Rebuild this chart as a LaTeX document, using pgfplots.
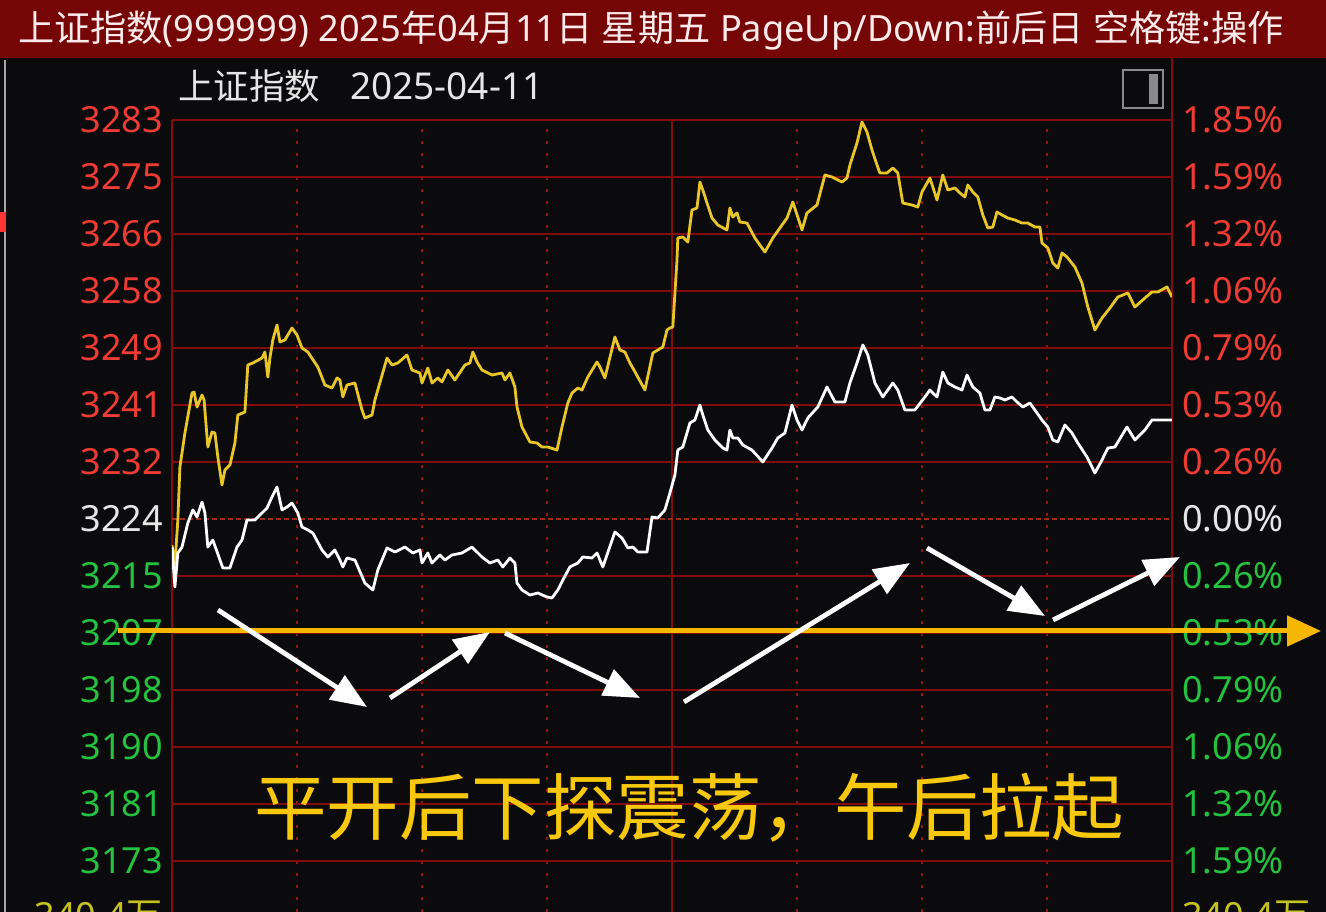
\documentclass[border=0pt]{standalone}
\usepackage{pgfplots}
\pgfplotsset{compat=1.18}
\usepackage{pgfplotstable}
\usepackage{fontspec}
\setmainfont{Noto Sans}
\newfontfamily\cjk{Noto Sans CJK SC}
\usetikzlibrary{arrows.meta}
\definecolor{bg}{HTML}{0B0B0E}
\definecolor{bar}{HTML}{760606}
\definecolor{gridred}{HTML}{820C0C}
\definecolor{dotred}{HTML}{8E1616}
\definecolor{zerored}{HTML}{A02C14}
\definecolor{lblred}{HTML}{EE3B33}
\definecolor{lblgreen}{HTML}{25C23F}
\definecolor{lblwhite}{HTML}{E6E6E6}
\definecolor{lineyellow}{HTML}{E8C62A}
\definecolor{arrowyellow}{HTML}{F5B700}
\definecolor{captionyellow}{HTML}{F8C80C}
\definecolor{volyellow}{HTML}{C4C21E}
\definecolor{icongray}{HTML}{8A8A8A}

\pgfplotstableread{
t v
0.0 3219.75
0.7 3216.76
1.4 3223.49
1.9 3231.41
3.1 3236.49
4.8 3242.47
5.3 3242.62
6.0 3240.38
7.2 3242.17
7.7 3241.43
8.6 3234.40
9.6 3236.64
10.3 3236.49
11.0 3232.91
12.0 3228.72
12.7 3230.96
13.9 3231.71
15.1 3235.00
15.8 3239.18
17.5 3239.63
18.2 3246.66
19.4 3246.96
21.6 3247.70
22.3 3248.60
23.0 3244.86
23.5 3247.70
24.2 3250.40
25.2 3252.64
25.9 3250.10
27.1 3250.40
28.8 3252.19
30.0 3251.14
31.2 3249.20
32.6 3248.60
35.0 3246.36
36.7 3243.67
38.4 3243.22
39.6 3244.72
40.3 3244.42
41.0 3241.88
42.0 3243.67
43.9 3243.97
45.6 3239.93
46.3 3238.74
48.0 3239.18
48.7 3241.43
51.6 3247.70
52.8 3246.66
54.2 3246.96
56.4 3248.15
57.6 3245.91
59.5 3245.46
60.0 3243.97
61.4 3246.21
62.4 3243.97
63.8 3244.72
64.8 3244.12
66.2 3245.91
67.9 3244.42
70.3 3246.66
71.5 3246.96
72.2 3248.60
73.2 3247.11
74.4 3245.91
76.8 3245.16
79.2 3245.46
79.9 3244.42
81.1 3245.46
82.3 3243.37
82.8 3240.38
84.0 3237.39
85.9 3235.15
87.6 3235.00
88.8 3234.40
90.2 3234.40
92.4 3233.95
93.6 3237.39
95.0 3240.98
96.0 3242.47
97.4 3243.22
98.4 3242.92
99.8 3244.86
102.0 3247.11
102.7 3246.36
103.9 3244.72
106.3 3250.84
107.5 3248.90
108.7 3248.60
109.9 3246.96
110.6 3246.21
113.5 3242.92
115.4 3248.45
116.6 3248.90
117.8 3249.35
118.8 3251.89
119.5 3252.19
120.2 3252.34
121.2 3262.35
121.4 3265.64
122.6 3265.79
123.8 3265.04
124.8 3269.83
126.0 3270.13
126.7 3274.01
127.4 3272.82
128.4 3270.87
129.6 3268.63
131.0 3267.58
133.2 3266.84
133.9 3270.13
134.6 3268.78
135.6 3269.38
136.3 3268.03
138.0 3267.88
139.9 3265.64
142.3 3263.55
144.2 3265.64
145.9 3267.14
147.6 3268.63
149.0 3271.02
151.2 3266.84
152.4 3269.38
154.8 3270.57
156.7 3275.06
158.4 3274.76
160.8 3274.01
162.0 3274.61
162.7 3276.55
164.4 3279.84
165.6 3282.98
166.8 3281.48
168.0 3278.79
169.2 3276.55
169.9 3275.36
171.6 3275.36
173.0 3276.10
174.2 3275.36
175.4 3270.87
177.6 3270.57
179.0 3270.27
180.0 3272.52
181.9 3274.61
182.6 3273.26
183.6 3271.32
185.0 3275.06
186.2 3272.82
187.9 3273.11
189.1 3272.37
190.3 3271.77
191.0 3273.56
192.2 3272.52
193.4 3271.77
194.6 3269.08
195.8 3267.14
197.0 3267.28
198.0 3269.53
199.2 3269.08
200.6 3268.63
202.3 3268.33
204.0 3267.88
205.4 3267.88
207.1 3267.28
208.3 3267.28
208.8 3264.89
210.2 3264.15
211.4 3261.90
212.6 3261.16
213.6 3263.40
214.8 3262.80
216.7 3261.31
218.4 3258.91
219.8 3255.33
221.5 3251.89
223.2 3253.68
225.1 3255.18
227.0 3256.82
229.4 3257.42
231.1 3255.33
233.5 3256.67
235.2 3257.57
236.6 3257.57
238.8 3258.32
240.0 3256.82
}\yellowdata

\pgfplotstableread{
t v
0.0 3219.45
0.7 3213.48
1.4 3218.56
2.4 3219.45
3.8 3223.04
5.0 3224.99
6.0 3223.94
7.2 3226.18
7.9 3224.54
8.6 3219.45
9.8 3220.50
12.2 3216.32
13.9 3216.32
15.6 3219.45
16.8 3220.50
18.0 3223.49
19.9 3223.49
21.6 3224.54
22.8 3225.28
24.0 3226.93
25.2 3228.42
26.4 3224.99
27.6 3225.43
28.8 3226.03
30.2 3224.54
31.2 3222.44
32.6 3222.00
33.8 3221.55
36.0 3219.01
37.4 3217.96
39.1 3219.01
40.3 3217.51
41.0 3216.47
42.0 3217.81
43.9 3217.51
46.3 3214.07
48.2 3213.03
49.4 3216.02
51.6 3219.31
53.5 3218.71
55.9 3219.45
57.8 3218.56
59.5 3219.01
60.0 3217.06
61.4 3218.56
62.4 3217.06
64.3 3218.26
65.5 3217.51
67.2 3218.26
69.6 3218.56
72.0 3219.45
74.4 3217.96
76.3 3217.06
78.2 3217.51
79.4 3216.47
81.1 3217.81
82.3 3217.06
82.8 3214.07
84.0 3213.03
85.9 3212.28
87.8 3212.58
90.0 3211.98
91.2 3211.83
92.6 3213.03
93.8 3214.52
95.5 3216.47
97.4 3217.06
98.6 3217.96
100.8 3217.81
102.0 3218.56
103.4 3216.47
106.3 3221.70
108.0 3220.80
109.4 3219.31
110.6 3219.45
111.8 3218.71
114.0 3218.71
115.2 3223.94
116.6 3223.79
118.3 3224.99
119.5 3227.53
120.7 3230.22
121.4 3233.95
122.6 3234.40
124.3 3237.99
125.5 3238.44
126.7 3240.68
127.4 3239.18
128.6 3236.94
130.3 3235.45
132.2 3234.25
133.2 3233.95
133.9 3236.94
134.6 3235.75
135.8 3235.75
137.0 3234.70
139.2 3233.95
141.8 3232.16
144.0 3234.25
145.4 3235.75
147.1 3236.49
148.8 3240.68
150.0 3238.44
151.2 3236.94
152.6 3238.74
155.0 3240.38
157.2 3243.37
159.1 3241.13
161.5 3241.13
162.7 3243.97
164.4 3246.96
165.8 3249.65
167.0 3248.15
168.7 3243.97
170.6 3241.88
173.0 3243.97
174.2 3242.92
175.9 3239.93
178.3 3239.93
180.7 3241.88
181.9 3242.92
183.6 3241.88
185.0 3245.61
186.2 3243.97
187.9 3243.37
189.6 3242.92
190.8 3245.16
192.2 3243.37
193.9 3242.47
195.1 3239.93
196.3 3239.93
197.5 3241.88
198.7 3241.73
199.9 3241.43
201.6 3241.88
202.8 3241.13
204.2 3240.38
205.9 3240.98
207.1 3239.93
208.8 3238.44
210.2 3237.39
211.4 3235.45
212.6 3235.15
214.3 3237.69
216.0 3236.49
217.4 3235.00
219.6 3232.91
221.5 3230.52
223.2 3232.46
224.6 3234.25
226.3 3234.40
229.2 3237.39
231.1 3235.45
233.5 3236.94
235.2 3238.44
240.0 3238.44
}\whitedata

\begin{document}
\begin{tikzpicture}[x=1pt,y=1pt]
\clip (0,0) rectangle (1326,912);
\fill[bg] (0,0) rectangle (1326,912);
% title bar
\fill[bar] (0,854) rectangle (1326,912);
\node[anchor=base west, inner sep=0pt, text=white!92!red, font=\fontsize{36.2}{40}\selectfont]
  at (18,870) {{\cjk 上证指数}(999999) 2025{\cjk 年}04{\cjk 月}11{\cjk 日} {\cjk 星期五} PageUp/Down:{\cjk 前后日} {\cjk 空格键}:{\cjk 操作}};
% subtitle
\node[anchor=base west, inner sep=0pt, text=lblwhite, font=\fontsize{35.5}{40}\cjk] at (178,812) {上证指数};
\node[anchor=base west, inner sep=0pt, text=lblwhite, font=\fontsize{37}{40}\selectfont] at (350,812) {2025-04-11};
% icon
\draw[icongray, line width=2.5pt] (1123,804) rectangle (1163,842);
\fill[icongray] (1149,808) rectangle (1158,838);
% left window edge
\draw[white!65!black, line width=1.5pt] (5,0) -- (5,852);
\fill[red!80!white] (0,680) rectangle (6,700);
% right separator above axis
\draw[gridred, line width=2.4pt] (1172,792) -- (1172,854);

\begin{axis}[
  at={(172pt,0pt)}, anchor=south west,
  scale only axis, width=1000pt, height=792pt,
  xmin=0, xmax=240, ymin=3164.90, ymax=3283.28,
  axis line style={draw=none},
  tick style={draw=none}, major tick length=0pt,
  xtick={30,60,90,150,180,210}, xticklabels={},
  xmajorgrids,
  major x grid style={dotred, line width=2.6pt, dash pattern=on 3pt off 9pt},
  extra x ticks={0,120,240}, extra x tick labels={},
  extra x tick style={major x grid style={gridred, line width=2.4pt, solid}},
  ytick={3172.52,3181.04,3189.56,3198.08,3206.60,3215.12,3232.16,3240.68,3249.20,3257.72,3266.24,3274.76,3283.28},
  yticklabels={\textcolor{lblgreen}{3173},\textcolor{lblgreen}{3181},\textcolor{lblgreen}{3190},\textcolor{lblgreen}{3198},\textcolor{lblgreen}{3207},\textcolor{lblgreen}{3215},\textcolor{lblred}{3232},\textcolor{lblred}{3241},\textcolor{lblred}{3249},\textcolor{lblred}{3258},\textcolor{lblred}{3266},\textcolor{lblred}{3275},\textcolor{lblred}{3283}},
  ymajorgrids,
  major y grid style={gridred, line width=2.4pt},
  extra y ticks={3223.64}, extra y tick labels={\textcolor{lblwhite}{3224}},
  extra y tick style={major y grid style={zerored, line width=2.4pt, dash pattern=on 5pt off 3pt}},
  yticklabel style={font=\fontsize{36}{40}\selectfont, inner sep=0pt, anchor=east, xshift=-9pt},
]
\addplot[lineyellow, line width=2.8pt, line join=round] table[x=t,y=v] {\yellowdata};
\addplot[white, line width=2.8pt, line join=round] table[x=t,y=v] {\whitedata};
\end{axis}

\begin{axis}[
  at={(172pt,0pt)}, anchor=south west,
  scale only axis, width=1000pt, height=792pt,
  xmin=0, xmax=240, ymin=3164.90, ymax=3283.28,
  axis line style={draw=none},
  tick style={draw=none}, major tick length=0pt,
  xtick=\empty,
  yticklabel pos=right,
  ytick={3172.52,3181.04,3189.56,3198.08,3206.60,3215.12,3232.16,3240.68,3249.20,3257.72,3266.24,3274.76,3283.28},
  yticklabels={\textcolor{lblgreen}{1.59\%},\textcolor{lblgreen}{1.32\%},\textcolor{lblgreen}{1.06\%},\textcolor{lblgreen}{0.79\%},\textcolor{lblgreen}{0.53\%},\textcolor{lblgreen}{0.26\%},\textcolor{lblred}{0.26\%},\textcolor{lblred}{0.53\%},\textcolor{lblred}{0.79\%},\textcolor{lblred}{1.06\%},\textcolor{lblred}{1.32\%},\textcolor{lblred}{1.59\%},\textcolor{lblred}{1.85\%}},
  extra y ticks={3223.64}, extra y tick labels={\textcolor{lblwhite}{0.00\%}},
  yticklabel style={font=\fontsize{36}{40}\selectfont, inner sep=0pt, anchor=west, xshift=10pt},
]
\end{axis}

% annotations
\draw[arrowyellow, line width=5pt, -{Triangle[length=34pt,width=30pt]}] (118,281) -- (1321,281);
\begin{scope}[white, line width=4.8pt, -{Triangle[length=36pt,width=28pt]}]
\draw (218,302) -- (367,205);
\draw (390,214) -- (490,280);
\draw (505,279) -- (640,214);
\draw (684,210) -- (910,349);
\draw (927,364) -- (1045,296);
\draw (1053,292) -- (1180,355);
\end{scope}
\node[anchor=base west, inner sep=0pt, text=captionyellow, font=\fontsize{72.5}{80}\cjk] at (254,77) {平开后下探震荡，午后拉起};
% volume labels (cut off at the bottom, as in the screenshot)
\node[anchor=base east, inner sep=0pt, text=volyellow, font=\fontsize{36}{40}\selectfont] at (163,-17) {340.4{\cjk 万}};
\node[anchor=base west, inner sep=0pt, text=volyellow, font=\fontsize{36}{40}\selectfont] at (1182,-17) {340.4{\cjk 万}};
\end{tikzpicture}
\end{document}
